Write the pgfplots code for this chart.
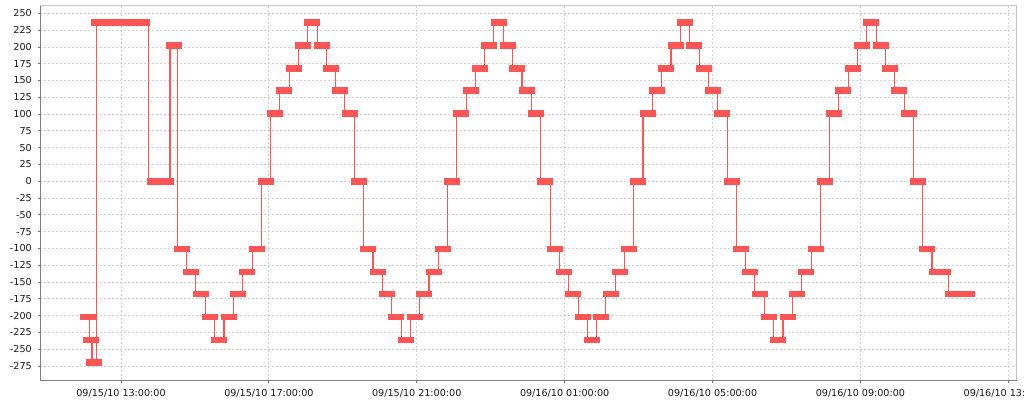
\documentclass[border=0pt]{standalone}
\usepackage{fontspec}
\setmainfont{DejaVu Sans}
\usepackage{pgfplots}
\pgfplotsset{compat=1.18}

\definecolor{series}{RGB}{255,85,85}
\definecolor{gridgray}{RGB}{212,212,212}
\definecolor{axisgray}{RGB}{128,128,128}
\definecolor{framegray}{RGB}{195,195,195}
\definecolor{labelgray}{RGB}{25,25,25}

% flat rectangle used as the marker of every reading
\pgfdeclareplotmark{hbar}{%
  \pgfpathrectangle{\pgfqpoint{-8pt}{-3.25pt}}{\pgfqpoint{16pt}{6.5pt}}%
  \pgfusepathqfill}

\begin{document}
\begin{tikzpicture}
\begin{axis}[
    scale only axis,
    width=976.4pt, height=374.3pt,
    at={(0,0)}, anchor=south west,
    xmin=10.817, xmax=37.227,
    ymin=-296.3, ymax=260.9,
    xtick={13,17,21,25,29,33,37},
    xticklabels={09/15/10 13:00:00,09/15/10 17:00:00,09/15/10 21:00:00,
                 09/16/10 01:00:00,09/16/10 05:00:00,09/16/10 09:00:00,
                 09/16/10 13:00:00},
    ytick={-275,-250,...,250},
    yticklabels={-275,-250,-225,-200,-175,-150,-125,-100,-75,-50,-25,
                 0,25,50,75,100,125,150,175,200,225,250},
    xtick pos=bottom, ytick pos=left,
    tick align=outside,
    major tick length=2.5pt,
    tick style={axisgray, line width=0.8pt},
    grid=major,
    major grid style={gridgray, dash pattern=on 2pt off 2pt, line width=0.8pt},
    axis line style={framegray, line width=1pt},
    ticklabel style={font=\fontsize{9.6}{11}\selectfont, text=labelgray},
    yticklabel style={xshift=-2.5pt},
    xticklabel style={yshift=-2.8pt},
]
\addplot[series, line width=1.1pt, const plot mark mid,
         mark=hbar, mark options={fill=series, draw=none}]
coordinates {
(12.12,-202) (12.175,-236) (12.256,-270)
(12.40,236) (12.65,236) (12.90,236) (13.15,236) (13.40,236) (13.57,236)
(13.92,0) (14.07,0) (14.22,0)
(14.43,202)
(14.65,-101) (14.89,-135) (15.16,-168) (15.41,-202) (15.65,-236)
(15.92,-202) (16.16,-168) (16.41,-135) (16.68,-101)
(16.92,0) (17.17,101) (17.42,135) (17.68,168) (17.92,202) (18.17,236)
(18.44,202) (18.68,168) (18.92,135) (19.19,101) (19.44,0)
(19.68,-101) (19.95,-135) (20.20,-168) (20.44,-202) (20.71,-236)
(20.95,-202) (21.20,-168) (21.46,-135) (21.71,-101)
(21.95,0) (22.20,101) (22.47,135) (22.71,168) (22.95,202) (23.22,236)
(23.47,202) (23.71,168) (23.98,135) (24.23,101) (24.47,0)
(24.74,-101) (24.98,-135) (25.23,-168) (25.50,-202) (25.74,-236)
(25.98,-202) (26.25,-168) (26.50,-135) (26.74,-101)
(26.98,0) (27.26,101) (27.50,135) (27.74,168) (28.01,202) (28.26,236)
(28.50,202) (28.77,168) (29.01,135) (29.26,101) (29.53,0)
(29.77,-101) (30.01,-135) (30.28,-168) (30.53,-202) (30.77,-236)
(31.04,-202) (31.29,-168) (31.53,-135) (31.80,-101)
(32.04,0) (32.29,101) (32.53,135) (32.80,168) (33.04,202) (33.29,236)
(33.56,202) (33.80,168) (34.05,135) (34.32,101) (34.56,0)
(34.80,-101) (35.07,-135) (35.24,-135) (35.51,-168) (35.70,-168) (35.88,-168)
};
\end{axis}
% darker left and bottom axis lines
\draw[axisgray, line width=1pt] (0,374.3pt) -- (0,0) -- (976.4pt,0);
\pgfresetboundingbox
\useasboundingbox (-40.3pt,-19.7pt) rectangle (983.7pt,380.3pt);
\end{tikzpicture}
\end{document}
